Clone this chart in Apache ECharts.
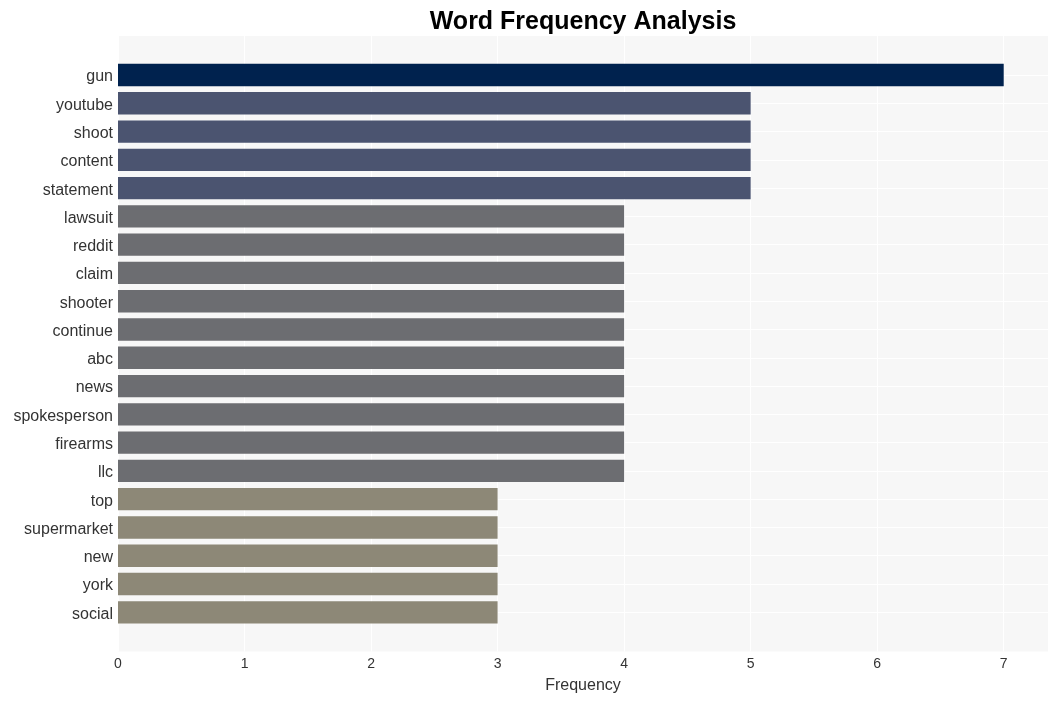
<!DOCTYPE html>
<html>
<head>
<meta charset="utf-8">
<script src="https://cdn.jsdelivr.net/npm/echarts@6/dist/echarts.min.js"></script>
<style>html,body{margin:0;padding:0;background:#fff}#c{width:1058px;height:701px}</style>
</head>
<body>
<div id="c"></div>
<script>
const categories = ['gun','youtube','shoot','content','statement','lawsuit','reddit','claim','shooter','continue','abc','news','spokesperson','firearms','llc','top','supermarket','new','york','social'];
const frequencies = [7,5,5,5,5,4,4,4,4,4,4,4,4,4,4,3,3,3,3,3];
const xTicks = [0,1,2,3,4,5,6,7];
const colorByValue = {7:'#00224e',5:'#4b5470',4:'#6c6d71',3:'#8d8877'};

const FONT = '"Liberation Sans", Arial, sans-serif';
const xMax = 7.35;
const chart = echarts.init(document.getElementById('c'), null, {renderer:'canvas'});
chart.setOption({
  animation: false,
  backgroundColor: '#ffffff',
  title: {
    text: 'Word Frequency Analysis',
    left: 578, top: 5, textAlign: 'center',
    textStyle: {fontFamily: FONT, fontSize: 25, fontWeight: 'bold', color: '#000'}
  },
  grid: [
    {left: 118, right: 10, top: 36, bottom: 49.5, show: true, backgroundColor: '#f7f7f7', borderWidth: 0, containLabel: false},
    {left: 118, right: 10, top: 75, bottom: 88.7, show: false, containLabel: false}
  ],
  xAxis: [
    {type: 'value', gridIndex: 0, min: 0, max: xMax, interval: 1,
     axisLine: {show: false}, axisTick: {show: false},
     axisLabel: {fontFamily: FONT, fontSize: 14, color: '#333', margin: 6,
       customValues: xTicks},
     splitLine: {show: true, lineStyle: {color: '#ffffff', width: 1}},
     name: 'Frequency', nameLocation: 'middle', nameGap: 26,
     nameTextStyle: {fontFamily: FONT, fontSize: 16, color: '#333'}},
    {type: 'value', gridIndex: 1, min: 0, max: xMax, show: false}
  ],
  yAxis: [
    {type: 'value', gridIndex: 0, show: false},
    {type: 'category', gridIndex: 1, data: categories, inverse: true, boundaryGap: false,
     axisLine: {show: false}, axisTick: {show: false},
     axisLabel: {color: '#333', margin: 5, interval: 0,
       formatter: v => '{a|' + v + '}',
       rich: {a: {fontFamily: FONT, fontSize: 16, color: '#333', padding: [4, 0, 0, 0]}}},
     splitLine: {show: true, interval: 0, lineStyle: {color: '#ffffff', width: 1}}}
  ],
  series: [{
    type: 'bar', xAxisIndex: 1, yAxisIndex: 1, clip: false,
    barWidth: '79%',
    data: frequencies.map(v => ({value: v, itemStyle: {color: colorByValue[v]}}))
  }]
});
</script>
</body>
</html>
